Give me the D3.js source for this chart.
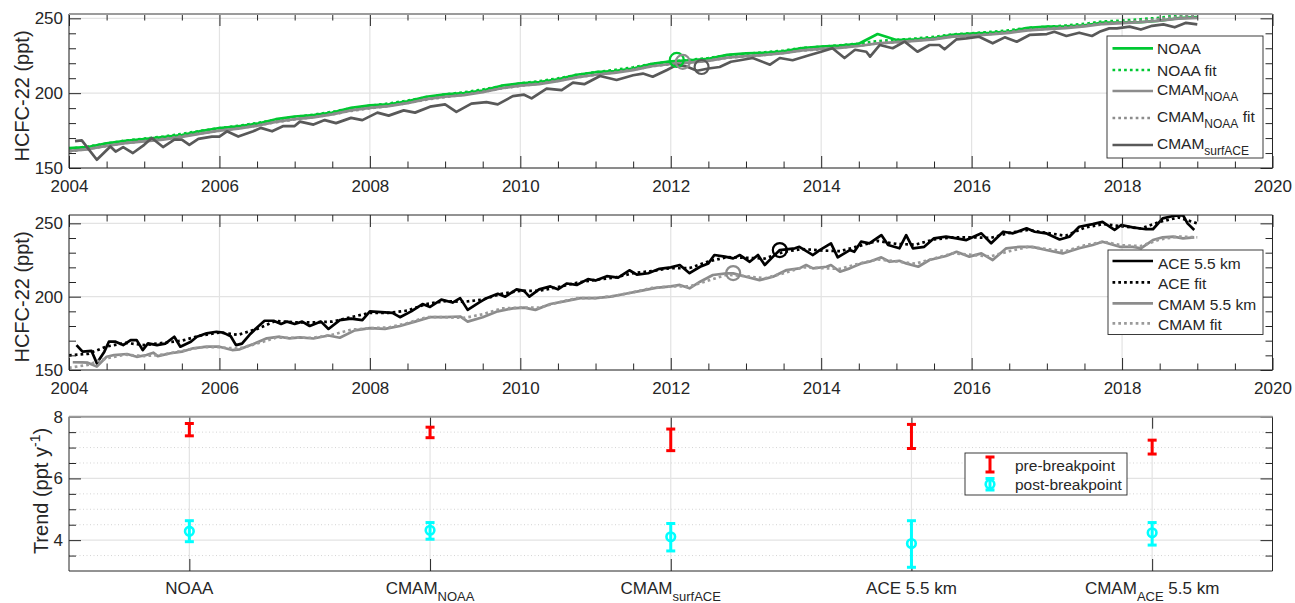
<!DOCTYPE html>
<html><head><meta charset="utf-8">
<script src="https://cdn.jsdelivr.net/npm/d3@7"></script>
<style>
body{margin:0;background:#fff}
svg text{font-family:"Liberation Sans",Arial,Helvetica,sans-serif;fill:#262626;white-space:pre}
</style></head>
<body><svg id="c" width="1295" height="603"></svg>
<script>
// ---------------- DATA ----------------
const quarterYears = d3.range(61).map(i => 2004 + i * 0.25);
const noaa = [163.3,164.0,166.5,168.2,169.3,170.6,172.0,174.6,176.7,177.8,179.6,182.6,184.4,185.3,187.0,190.2,191.8,192.6,194.5,197.6,199.2,200.0,201.8,205.0,206.6,207.4,209.2,212.3,214.0,214.8,216.5,219.6,221.2,222.0,223.0,225.6,226.6,227.0,228.0,230.2,231.2,231.8,233.0,239.5,235.5,236.0,236.8,239.0,239.8,240.3,241.2,243.6,244.5,244.6,245.4,247.2,247.2,247.5,248.4,250.2,250.8];
const noaaFit = [162.8,164.3,166.3,168.3,169.6,171.0,172.8,174.8,176.6,178.2,180.0,182.3,184.1,185.6,187.5,189.8,191.6,193.1,195.0,197.3,199.1,200.6,202.4,204.7,206.5,208.0,209.9,212.2,214.0,215.5,217.3,219.5,221.0,222.2,223.5,225.3,226.3,227.3,228.5,230.2,231.0,232.0,233.2,234.8,235.6,236.5,237.6,239.3,240.0,240.9,242.0,243.6,244.3,245.2,246.3,247.9,248.5,249.4,250.4,252.0,252.6];
const cmamNoaa = [161.5,162.5,164.8,166.6,167.8,169.0,170.8,173.0,175.0,176.3,178.2,180.8,182.6,183.8,185.8,188.5,190.2,191.3,193.3,196.0,197.6,198.7,200.6,203.3,205.0,206.1,208.0,210.6,212.3,213.5,215.4,218.0,219.5,220.4,221.6,223.7,224.8,225.5,226.7,228.6,229.6,230.3,231.5,233.3,234.1,234.9,236.0,237.8,238.5,239.2,240.3,242.0,242.8,243.5,244.6,246.2,246.8,247.4,248.4,249.8,250.3];
const cmamNoaaFit = [161.0,162.8,164.7,166.7,168.0,169.4,171.2,173.2,174.9,176.5,178.4,180.6,182.4,184.0,185.9,188.2,189.9,191.5,193.4,195.7,197.4,199.0,200.9,203.2,204.9,206.4,208.3,210.6,212.3,213.9,215.8,218.0,219.4,220.5,221.8,223.6,224.6,225.6,226.9,228.5,229.4,230.4,231.7,233.3,234.1,235.1,236.3,237.9,238.6,239.6,240.8,242.3,243.0,244.0,245.2,246.7,247.4,248.4,249.6,251.0,251.5];
const cmamSurfACE = [[2004.08,168],[2004.17,168.5],[2004.37,155.5],[2004.55,164.4],[2004.62,161],[2004.72,164],[2004.85,160],[2005.0,165.5],[2005.1,170],[2005.25,164],[2005.4,169],[2005.5,169],[2005.6,165.5],[2005.72,169.5],[2005.9,171],[2006.0,171],[2006.1,174.5],[2006.25,171],[2006.45,174.5],[2006.55,176.8],[2006.7,174.5],[2006.85,178],[2007.0,178],[2007.07,181],[2007.25,179],[2007.4,182],[2007.55,180],[2007.75,183.5],[2007.9,182],[2008.1,187],[2008.25,185],[2008.45,188.5],[2008.6,187],[2008.8,191],[2009.0,192.5],[2009.15,187.5],[2009.35,193],[2009.55,194],[2009.7,192.5],[2009.9,198],[2010.05,199],[2010.15,196.5],[2010.35,203],[2010.55,202],[2010.7,207],[2010.85,206],[2011.06,211.5],[2011.28,208.8],[2011.5,212],[2011.63,213.1],[2011.76,211],[2011.95,215.5],[2012.08,218.9],[2012.21,217.8],[2012.35,215],[2012.5,216.5],[2012.65,217.5],[2012.8,221],[2012.92,222],[2013.09,223.5],[2013.32,219],[2013.45,223.5],[2013.62,222],[2013.85,225.5],[2014.0,227.7],[2014.15,230],[2014.31,223.5],[2014.45,229],[2014.6,227.7],[2014.65,224.4],[2014.78,232.2],[2014.95,230],[2015.11,234.4],[2015.28,227.7],[2015.44,232.2],[2015.57,232.2],[2015.64,229.3],[2015.8,236],[2015.93,236.6],[2016.1,237.7],[2016.28,233.3],[2016.44,237.3],[2016.6,234.4],[2016.77,238.9],[2017.0,239.5],[2017.1,241],[2017.26,238.2],[2017.43,240.4],[2017.6,238.2],[2017.7,241],[2017.83,243.3],[2017.93,243.3],[2018.1,244.5],[2018.25,242.5],[2018.4,245],[2018.55,246],[2018.7,244],[2018.85,247],[2019.0,246]];
const topBreakYears = [2012.08, 2012.16, 2012.41];
const topBreakValues = [222.2, 220.9, 217.5];

const ace55 = [[2004.1,167],[2004.18,162.5],[2004.3,163],[2004.37,154.6],[2004.47,162.5],[2004.53,169.3],[2004.62,169.3],[2004.72,167],[2004.82,170.4],[2004.9,170.4],[2004.98,163.6],[2005.05,168.2],[2005.17,167],[2005.28,168],[2005.4,172.7],[2005.48,165.9],[2005.62,169.3],[2005.7,172.7],[2005.83,175],[2005.96,176.1],[2006.05,175.5],[2006.15,173],[2006.22,167],[2006.3,168],[2006.4,174],[2006.5,179],[2006.6,183.6],[2006.72,183.6],[2006.82,181.4],[2006.9,183],[2007.0,181.4],[2007.1,183],[2007.2,180],[2007.35,183],[2007.45,178],[2007.6,184],[2007.75,185],[2007.9,184],[2008.0,190],[2008.15,189.5],[2008.3,189],[2008.4,186],[2008.55,190],[2008.7,195],[2008.8,193],[2008.95,198],[2009.1,196],[2009.2,199],[2009.3,191],[2009.45,196],[2009.55,199],[2009.7,202],[2009.8,200],[2009.95,205],[2010.05,204],[2010.12,200],[2010.25,205],[2010.4,207],[2010.5,205],[2010.62,209],[2010.75,208],[2010.9,212],[2011.0,211],[2011.15,214],[2011.3,213],[2011.45,218],[2011.55,215],[2011.7,216],[2011.85,219],[2012.0,220],[2012.12,221.6],[2012.25,216],[2012.39,220.4],[2012.5,222.7],[2012.58,228.4],[2012.72,227.3],[2012.83,226.1],[2012.92,228.4],[2013.05,223.8],[2013.16,228.4],[2013.25,221.6],[2013.36,227.3],[2013.45,231.8],[2013.65,233],[2013.71,234],[2013.89,228.4],[2013.98,231.8],[2014.13,236.4],[2014.22,226.8],[2014.38,231.8],[2014.44,230.6],[2014.53,237.5],[2014.64,236.4],[2014.8,242],[2014.89,235.2],[2015.04,233],[2015.13,242],[2015.22,233],[2015.37,234],[2015.5,239.8],[2015.66,240.9],[2015.8,239.8],[2015.93,238.6],[2016.13,243.2],[2016.26,236.4],[2016.42,244.3],[2016.55,243.2],[2016.73,246.6],[2016.84,244.3],[2016.99,243.2],[2017.17,239],[2017.3,240.9],[2017.43,247.7],[2017.61,249.5],[2017.74,251],[2017.9,245.5],[2017.99,248.9],[2018.14,247.3],[2018.32,246],[2018.41,246],[2018.54,253.4],[2018.68,255],[2018.81,255.6],[2018.87,250],[2018.96,245.5]];
const aceFit = [160,161,166,168.5,167,168.5,170,173.5,175.5,174,178,183.5,182.5,182.5,183,186,189,189,190.5,195,197,196.5,198,202,204,204,206.5,209.5,211.5,213,216,217.5,219.5,219.5,224,227,226.5,226,230.5,232.5,231.5,231,234.5,238,236,235.5,239,240.5,240.5,240,243.5,245.5,243.5,241.5,247,249.5,248,246.5,251,254,250];
const cmam55 = [[2004.05,155.3],[2004.18,155.2],[2004.25,155],[2004.37,152.3],[2004.5,159],[2004.6,160.2],[2004.77,160.9],[2004.9,159],[2005.03,160.2],[2005.12,161.8],[2005.18,159.5],[2005.35,161.4],[2005.5,162.5],[2005.65,164.8],[2005.83,165.9],[2006.0,165.9],[2006.17,163.6],[2006.27,164.1],[2006.45,167.7],[2006.63,171.6],[2006.8,172.7],[2006.93,171.6],[2007.07,172.3],[2007.25,171.5],[2007.45,173.5],[2007.6,172],[2007.8,177],[2008.0,178.5],[2008.2,178],[2008.4,180],[2008.6,183],[2008.8,186],[2009.0,186],[2009.2,186.5],[2009.3,183],[2009.5,186],[2009.7,190],[2009.9,192],[2010.05,192.5],[2010.2,191],[2010.4,195],[2010.6,197],[2010.8,199],[2011.0,199],[2011.2,200],[2011.4,202],[2011.6,204],[2011.8,206],[2012.0,207],[2012.12,208],[2012.25,205.7],[2012.39,210.2],[2012.56,214.8],[2012.74,215.9],[2012.83,215.9],[2013.0,213.6],[2013.18,211.3],[2013.36,213.6],[2013.54,218.2],[2013.71,219.3],[2013.8,221.6],[2013.89,219.3],[2014.07,220.4],[2014.13,221.6],[2014.25,217],[2014.38,219.3],[2014.53,222.7],[2014.64,223.8],[2014.8,226.8],[2014.91,223.8],[2015.04,224.5],[2015.13,222.7],[2015.29,220.4],[2015.44,225],[2015.66,227.7],[2015.8,230.6],[2015.97,227.3],[2016.13,229.5],[2016.28,225],[2016.46,233],[2016.64,234],[2016.81,234],[2016.99,231.8],[2017.21,229.5],[2017.43,233],[2017.61,235.2],[2017.74,237.5],[2017.97,234],[2018.14,234],[2018.25,233],[2018.41,238.6],[2018.54,240.5],[2018.68,240.9],[2018.81,239.8],[2018.96,240.5]];
const cmamFit = [151.5,153.5,158,160.5,159.5,160.5,163,165.5,165.5,164.5,168,172,172,172,174,177.5,178.5,179,182,186,186,185.5,188,192,192.5,192.5,196,199,199,200.5,203,206,207,207,211,215,214,212.5,216,220,219.5,219,222.5,225.5,224,222.5,226,229.5,228.5,227.5,231,234,232.5,231,235,237.5,235,234.5,239,241,240.5];
const midBreakYears = [2013.45, 2012.83];
const midBreakValues = [231.8, 216.1];

const categories = ["NOAA", "CMAM{NOAA}", "CMAM{surfACE}", "ACE 5.5 km", "CMAM{ACE} 5.5 km"];
const preTrend = [7.58, 7.49, 7.25, 7.36, 7.02];
const preLow   = [7.38, 7.32, 6.90, 6.97, 6.79];
const preHigh  = [7.78, 7.66, 7.60, 7.75, 7.24];
const postTrend = [4.29, 4.32, 4.11, 3.89, 4.24];
const postLow   = [3.95, 4.03, 3.65, 3.12, 3.84];
const postHigh  = [4.63, 4.57, 4.54, 4.63, 4.57];

const yearTicks = [2004,2006,2008,2010,2012,2014,2016,2018,2020];
const ppbTicks = [150,200,250];
const trendTicks = [4,6,8];

// ---------------- STYLE ----------------
const C = {
  green:"#00c832", gray:"#8c8c8c", dark:"#595959", black:"#000000", fitGray:"#9a9a9a",
  red:"#ff0000", cyan:"#00ffff", axis:"#262626", grid:"#e3e3e3", minor:"#d4d4d4"
};
const LW = 2.7, DASH = "2.7,3.1";
const svg = d3.select("#c");

const x = d3.scaleLinear().domain([2004,2020]).range([69,1272.5]);
const yTop = d3.scaleLinear().domain([150,252.9]).range([168,14]);
const yMid = d3.scaleLinear().domain([150,255.7]).range([370,215]);
const xCat = d3.scaleLinear().domain([0.5,5.5]).range([69,1272.5]);
const yBot = d3.scaleLinear().domain([3,8]).range([571,416.7]);

const q = vals => vals.map((v,i)=>[quarterYears[i], v]);

function addLabel(sel, str, x0, y0, size, subSize, subDy, anchor){
  const m = str.match(/^([^{]*)(?:\{([^}]*)\})?(.*)$/);
  const t = sel.append("text").attr("x",x0).attr("y",y0).attr("font-size",size).attr("text-anchor",anchor||"start");
  t.append("tspan").text(m[1]);
  if(m[2]){
    t.append("tspan").attr("dy",subDy).attr("font-size",subSize).text(m[2]);
    if(m[3]) t.append("tspan").attr("dy",-subDy).attr("font-size",size).text(m[3]);
  }
  return t;
}

function panel(id, xs, ys, o){
  const g = svg.append("g");
  const [xa,xb] = xs.range(); const [yb,ya] = ys.range();
  g.append("clipPath").attr("id","clip"+id).append("rect").attr("x",xa).attr("y",ya).attr("width",xb-xa).attr("height",yb-ya);
  if(o.yMinorGrid){
    g.append("g").selectAll("line").data(o.yMinorGrid).join("line")
      .attr("x1",xa).attr("x2",xb).attr("y1",d=>ys(d)).attr("y2",d=>ys(d))
      .attr("stroke",C.minor).attr("stroke-dasharray","1,2.5");
  }
  g.append("g").selectAll("line").data(o.xGrid).join("line")
    .attr("x1",d=>xs(d)).attr("x2",d=>xs(d)).attr("y1",ya).attr("y2",yb).attr("stroke",C.grid).attr("stroke-width",1.2);
  g.append("g").selectAll("line").data(o.yGrid).join("line")
    .attr("x1",xa).attr("x2",xb).attr("y1",d=>ys(d)).attr("y2",d=>ys(d)).attr("stroke",C.grid).attr("stroke-width",1.2);
  const plot = g.append("g").attr("clip-path",`url(#clip${id})`);
  const axes = g.append("g").attr("color",C.axis);
  axes.append("g").attr("transform",`translate(0,${yb})`)
    .call(d3.axisBottom(xs).tickValues(o.xMajor).tickSize(-12).tickPadding(12).tickFormat(o.xFormat||(()=>"")));
  axes.append("g").attr("transform",`translate(0,${ya})`).call(d3.axisTop(xs).tickValues(o.xMajor).tickSize(-12).tickFormat(()=>""));
  if(o.xMinor){
    axes.append("g").attr("transform",`translate(0,${yb})`).call(d3.axisBottom(xs).tickValues(o.xMinor).tickSize(-6.5).tickFormat(()=>""));
    axes.append("g").attr("transform",`translate(0,${ya})`).call(d3.axisTop(xs).tickValues(o.xMinor).tickSize(-6.5).tickFormat(()=>""));
  }
  axes.append("g").attr("transform",`translate(${xa},0)`)
    .call(d3.axisLeft(ys).tickValues(o.yMajor).tickSize(-12).tickPadding(6).tickFormat(d3.format("d")));
  axes.append("g").attr("transform",`translate(${xb},0)`).call(d3.axisRight(ys).tickValues(o.yMajor).tickSize(-12).tickFormat(()=>""));
  axes.append("g").attr("transform",`translate(${xa},0)`).call(d3.axisLeft(ys).tickValues(o.yMinor).tickSize(-7).tickFormat(()=>""));
  axes.append("g").attr("transform",`translate(${xb},0)`).call(d3.axisRight(ys).tickValues(o.yMinor).tickSize(-7).tickFormat(()=>""));
  axes.selectAll(".domain").remove();
  axes.selectAll("text").attr("font-size",17).attr("fill",C.axis).attr("font-family",null);
  axes.selectAll(".tick line").attr("stroke-width",1);
  axes.append("path").attr("d",`M${xa},${ya}V${yb}H${xb}V${ya}`).attr("fill","none").attr("stroke",C.axis).attr("stroke-width",1);
  axes.append("line").attr("x1",xa).attr("x2",xb).attr("y1",ya).attr("y2",ya)
    .attr("stroke",o.topGray?"#9b9b9b":C.axis).attr("stroke-width",o.topGray?2:1);
  return {g, plot, axes};
}

function drawLine(plot, data, xs, ys, color, dashed){
  plot.append("path").datum(data)
    .attr("d", d3.line().x(d=>xs(d[0])).y(d=>ys(d[1])))
    .attr("fill","none").attr("stroke",color).attr("stroke-width",LW)
    .attr("stroke-linejoin","round").attr("stroke-dasharray",dashed?DASH:null);
}

const xMinorYears = d3.range(2004,2020.01,0.5).filter(v=>v%2!==0);

// ---------- TOP ----------
const P1 = panel("a", x, yTop, {
  xGrid:yearTicks, yGrid:ppbTicks, xMajor:yearTicks, xMinor:xMinorYears,
  yMajor:ppbTicks, yMinor:d3.range(160,251,10).filter(v=>v%50!==0), xFormat:d3.format("d"), topGray:true
});
drawLine(P1.plot, q(noaa), x, yTop, C.green, false);
drawLine(P1.plot, q(noaaFit), x, yTop, C.green, true);
drawLine(P1.plot, q(cmamNoaa), x, yTop, C.gray, false);
drawLine(P1.plot, q(cmamNoaaFit), x, yTop, C.gray, true);
drawLine(P1.plot, cmamSurfACE, x, yTop, C.dark, false);
const topBreakColors = [C.green, C.gray, C.dark];
P1.plot.selectAll("circle").data(topBreakYears).join("circle")
  .attr("cx",d=>x(d)).attr("cy",(d,i)=>yTop(topBreakValues[i])).attr("r",7)
  .attr("fill","none").attr("stroke",(d,i)=>topBreakColors[i]).attr("stroke-width",2.2);

// ---------- MIDDLE ----------
const P2 = panel("b", x, yMid, {
  xGrid:yearTicks, yGrid:ppbTicks, xMajor:yearTicks, xMinor:xMinorYears,
  yMajor:ppbTicks, yMinor:d3.range(160,251,10).filter(v=>v%50!==0), xFormat:d3.format("d")
});
drawLine(P2.plot, ace55, x, yMid, C.black, false);
drawLine(P2.plot, q(aceFit), x, yMid, C.black, true);
drawLine(P2.plot, cmam55, x, yMid, C.gray, false);
drawLine(P2.plot, q(cmamFit), x, yMid, C.fitGray, true);
const midBreakColors = [C.black, C.gray];
P2.plot.selectAll("circle").data(midBreakYears).join("circle")
  .attr("cx",d=>x(d)).attr("cy",(d,i)=>yMid(midBreakValues[i])).attr("r",7)
  .attr("fill","none").attr("stroke",(d,i)=>midBreakColors[i]).attr("stroke-width",2.2);

// ---------- BOTTOM ----------
const catIdx = categories.map((c,i)=>i+1);
const P3 = panel("c", xCat, yBot, {
  xGrid:catIdx, yGrid:trendTicks, xMajor:catIdx, yMajor:trendTicks,
  yMinor:[3.5,4.5,5,5.5,6.5,7,7.5], yMinorGrid:[3.5,4.5,5,5.5,6.5,7,7.5], topGray:true
});
categories.forEach((c,i)=>addLabel(P3.axes, c, xCat(i+1), 594, 17, 13, 7, "middle"));

function errBar(g, cx, lo, hi, color, marker, yc){
  g.append("line").attr("x1",cx).attr("x2",cx).attr("y1",lo).attr("y2",hi).attr("stroke",color).attr("stroke-width",3);
  [lo,hi].forEach(v=>g.append("line").attr("x1",cx-4.5).attr("x2",cx+4.5).attr("y1",v).attr("y2",v).attr("stroke",color).attr("stroke-width",3));
  if(marker) g.append("circle").attr("cx",cx).attr("cy",yc).attr("r",4.3).attr("fill","none").attr("stroke",color).attr("stroke-width",2.6);
}
const EB = P3.g.append("g");
categories.forEach((c,i)=>{
  errBar(EB, xCat(i+1), yBot(preLow[i]), yBot(preHigh[i]), C.red, false);
  errBar(EB, xCat(i+1), yBot(postLow[i]), yBot(postHigh[i]), C.cyan, true, yBot(postTrend[i]));
});

// ---------- Y LABELS ----------
function yLabel(parts, cx, cy){
  const t = svg.append("text").attr("transform",`translate(${cx},${cy}) rotate(-90)`).attr("text-anchor","middle").attr("font-size",20);
  parts.forEach(p=>{const s=t.append("tspan").text(p.t); if(p.dy) s.attr("dy",p.dy); if(p.fs) s.attr("font-size",p.fs);});
}
yLabel([{t:"HCFC-22 (ppt)"}], 28.5, 96);
yLabel([{t:"HCFC-22 (ppt)"}], 28.5, 297);
yLabel([{t:"Trend (ppt y"},{t:"-1",dy:-8,fs:14},{t:")",dy:8}], 48, 491);

// ---------- LEGENDS ----------
function legendBox(x0,y0,w,h){
  svg.append("rect").attr("x",x0).attr("y",y0).attr("width",w).attr("height",h)
    .attr("fill","#fff").attr("stroke","#262626").attr("stroke-width",0.9);
}
function legendRows(rows, lx0, lx1, tx){
  const g = svg.append("g");
  rows.forEach(r=>{
    g.append("line").attr("x1",lx0).attr("x2",lx1).attr("y1",r.ly).attr("y2",r.ly)
      .attr("stroke",r.color).attr("stroke-width",LW).attr("stroke-dasharray",r.dash?DASH:null);
    addLabel(g, r.label, tx, r.ty, 15.5, 12, 6.5, "start");
  });
}
legendBox(1107,36,156,122);
legendRows([
  {label:"NOAA", color:C.green, ly:48.3, ty:53.8},
  {label:"NOAA fit", color:C.green, dash:true, ly:70, ty:75.5},
  {label:"CMAM{NOAA}", color:C.gray, ly:91, ty:94.5},
  {label:"CMAM{NOAA} fit", color:C.gray, dash:true, ly:118, ty:121.5},
  {label:"CMAM{surfACE}", color:C.dark, ly:145, ty:148.5}
], 1112.5, 1153, 1157);

legendBox(1108,250,155,84.5);
legendRows([
  {label:"ACE 5.5 km", color:C.black, ly:261, ty:268.5},
  {label:"ACE fit", color:C.black, dash:true, ly:282.3, ty:289},
  {label:"CMAM 5.5 km", color:C.gray, ly:303.3, ty:310},
  {label:"CMAM fit", color:C.fitGray, dash:true, ly:323.3, ty:329.5}
], 1112.5, 1153, 1158);

legendBox(965,453,162,42);
const LG = svg.append("g");
errBar(LG, 990, 457, 472, C.red, false);
errBar(LG, 990, 478.5, 490, C.cyan, true, 484.3);
LG.append("text").attr("x",1015).attr("y",471.2).attr("font-size",15.5).text("pre-breakpoint");
LG.append("text").attr("x",1015).attr("y",489.8).attr("font-size",15.5).text("post-breakpoint");
</script></body></html>
